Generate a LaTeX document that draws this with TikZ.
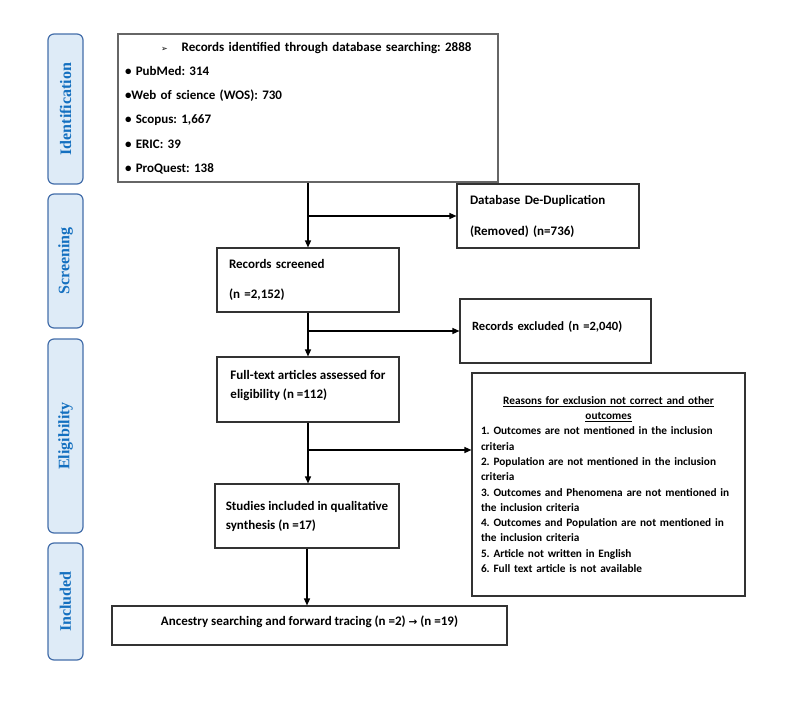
\documentclass[tikz,border=0pt]{standalone}
\usepackage{fontspec}
\setmainfont{Carlito}
\newfontfamily\tnr{Liberation Serif}
\newfontfamily\dv{DejaVu Sans}
\usetikzlibrary{arrows.meta,calc}
\definecolor{bandfill}{RGB}{222,235,247}
\definecolor{banddraw}{RGB}{68,110,170}
\definecolor{bandtext}{RGB}{20,112,192}
\frenchspacing
\begin{document}
\begin{tikzpicture}[x=1pt,y=-1pt,
  band/.style={draw=banddraw,fill=bandfill,rounded corners=6pt,line width=1.2pt,rotate=90,
    minimum height=35pt,inner sep=0pt,text=bandtext,font=\tnr\bfseries\fontsize{16}{18}\selectfont},
  box/.style={draw=black!80,line width=1.1pt,inner ysep=0pt,align=left},
  arr/.style={line width=1.3pt,-{Triangle[length=7pt,width=6pt]}}]
\useasboundingbox (0,0) rectangle (792,712);
% side bands
\node[band,minimum width=150pt] (bid) at (65.5,109) {Identification};
\node[band,minimum width=134pt] (bsc) at (65.5,261) {Screening};
\node[band,minimum width=194pt] (bel) at (65.5,436) {Eligibility};
\node[band,minimum width=117pt] (bin) at (65.5,601.5) {Included};
% boxes
\node[box,draw=black!60,minimum width=380pt,minimum height=148pt,text width=366pt,inner xsep=7pt,
  font=\bfseries\fontsize{13}{24.2}\selectfont] (top) at (308,108)
 {\hspace*{36pt}{\dv\fontsize{8}{10}\selectfont ➢}\hspace{14pt}Records identified through database searching: 2888\\
 • PubMed: 314\\
 •Web of science (WOS): 730\\
 • Scopus: 1,667\\
 • ERIC: 39\\
 • ProQuest: 138};
\node[box,minimum width=182pt,minimum height=64pt,text width=156pt,inner xsep=13pt,
  font=\bfseries\fontsize{13}{31}\selectfont] (dedup) at (548,216)
 {Database De-Duplication\\(Removed) (n=736)};
\node[box,minimum width=182pt,minimum height=64pt,text width=158pt,inner xsep=12pt,
  font=\bfseries\fontsize{13}{30}\selectfont] (screened) at (308,280)
 {Records screened\\(n =2,152)};
\node[box,minimum width=191pt,minimum height=64pt,text width=167pt,inner xsep=12pt,
  font=\bfseries\fontsize{12.6}{15}\selectfont] (excl) at (555.5,331)
 {Records excluded (n =2,040)\\[-4pt]\mbox{}};
\node[box,minimum width=182pt,minimum height=65pt,inner xsep=2pt,
  font=\bfseries\fontsize{13}{19}\selectfont] (full) at (308,389.5)
 {Full-text articles assessed for\\eligibility (n =112)\\[-8pt]\mbox{}};
\node[box,minimum width=184pt,minimum height=64pt,inner xsep=2pt,
  font=\bfseries\fontsize{13}{19}\selectfont] (stud) at (307,516)
 {Studies included in qualitative\\synthesis (n =17)};
\node[box,minimum width=273pt,minimum height=223pt,text width=255pt,inner xsep=9pt,
  font=\bfseries\fontsize{11.3}{15.3}\selectfont] (reas) at (608.5,484.5)
 {\centerline{\underline{Reasons for exclusion not correct and other}}
 \centerline{\underline{outcomes}}
 1. Outcomes are not mentioned in the inclusion\\
 criteria\\
 2. Population are not mentioned in the inclusion\\
 criteria\\
 3. Outcomes and Phenomena are not mentioned in\\
 the inclusion criteria\\
 4. Outcomes and Population are not mentioned in\\
 the inclusion criteria\\
 5. Article not written in English\\
 6. Full text article is not available};
\node[box,minimum width=395pt,minimum height=39pt,align=center,
  font=\bfseries\fontsize{13}{15}\selectfont] (anc) at (309.5,625.5)
 {Ancestry searching and forward tracing (n =2) {\dv\fontsize{10.5}{12}\selectfont →} (n =19)\\[-6pt]\mbox{}};
% connectors
\draw[arr] (top.south) -- (screened.north);
\draw[arr] (top.south |- dedup.west) -- (dedup.west);
\draw[arr] (screened.south) -- (full.north);
\draw[arr] (screened.south |- excl.west) -- (excl.west);
\draw[arr] (full.south) -- (full.south |- stud.north);
\coordinate (b3) at (308,450);
\draw[arr] (b3) -- (b3 -| reas.west);
\draw[arr] (stud.south) -- (stud.south |- anc.north);
\end{tikzpicture}
\end{document}
